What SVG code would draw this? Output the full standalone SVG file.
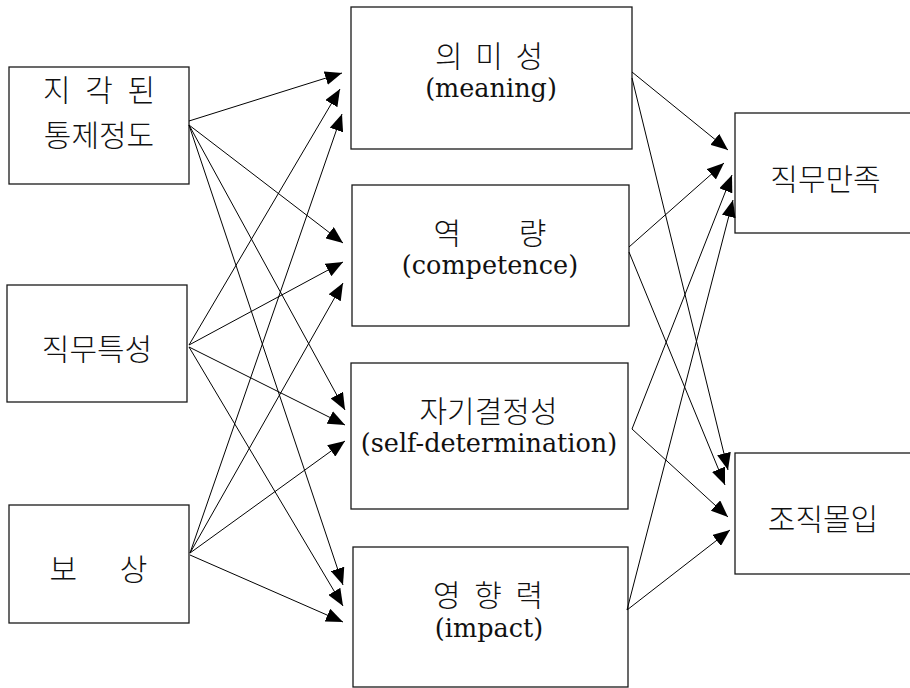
<svg xmlns="http://www.w3.org/2000/svg" width="910" height="688" viewBox="0 0 910 688">
  <style>
    .box { fill: #ffffff; stroke: #1a1a1a; stroke-width: 1.3; }
    .ko { font-family: "Noto Sans CJK KR", sans-serif; font-size: 30px; font-weight: 300; fill: #111; text-anchor: middle; }
    .en { font-family: "DejaVu Serif", "Liberation Serif", serif; font-size: 25.5px; fill: #111; text-anchor: middle; }
    .edge { stroke: #000; stroke-width: 1; fill: none; marker-end: url(#arrow); }
  </style>
  <defs>
    <marker id="arrow" markerUnits="userSpaceOnUse" markerWidth="18" markerHeight="14" refX="17" refY="7" orient="auto">
      <path d="M0,0 L17,7 L0,14 z" fill="#000"/>
    </marker>
  </defs>

  <rect width="910" height="688" fill="#ffffff"/>

  <!-- antecedents -->
  <g id="node-control">
    <rect class="box" x="9" y="67" width="180" height="117"/>
    <text class="ko" x="99" y="101" word-spacing="8">지 각 된</text>
    <text class="ko" x="99" y="146">통제정도</text>
  </g>
  <g id="node-job">
    <rect class="box" x="7" y="285" width="180" height="117"/>
    <text class="ko" x="97" y="360">직무특성</text>
  </g>
  <g id="node-reward">
    <rect class="box" x="9" y="505" width="180" height="118"/>
    <text class="ko" x="98.5" y="580" word-spacing="36">보 상</text>
  </g>

  <!-- empowerment dimensions -->
  <g id="node-meaning">
    <rect class="box" x="351" y="7" width="281" height="142"/>
    <text class="ko" x="489" y="67" word-spacing="6">의 미 성</text>
    <text class="en" x="491" y="97">(meaning)</text>
  </g>
  <g id="node-competence">
    <rect class="box" x="352" y="185" width="277" height="141"/>
    <text class="ko" x="490" y="244" word-spacing="51">역 량</text>
    <text class="en" x="490" y="274">(competence)</text>
  </g>
  <g id="node-self-determination">
    <rect class="box" x="351" y="363" width="277" height="146"/>
    <text class="ko" x="488.5" y="422">자기결정성</text>
    <text class="en" x="489" y="452">(self-determination)</text>
  </g>
  <g id="node-impact">
    <rect class="box" x="353" y="547" width="275" height="140"/>
    <text class="ko" x="488" y="606" word-spacing="7">영 향 력</text>
    <text class="en" x="489" y="637">(impact)</text>
  </g>

  <!-- outcomes -->
  <g id="node-satisfaction">
    <rect class="box" x="735" y="113" width="185" height="120"/>
    <text class="ko" x="825.5" y="190">직무만족</text>
  </g>
  <g id="node-commitment">
    <rect class="box" x="735" y="453" width="185" height="121"/>
    <text class="ko" x="823" y="530">조직몰입</text>
  </g>

  <g id="connectors">
    <!-- from 지각된 통제정도 -->
    <line class="edge" x1="189" y1="121" x2="342" y2="73"/>
    <line class="edge" x1="189" y1="125" x2="343" y2="243"/>
    <line class="edge" x1="189" y1="125" x2="345" y2="410"/>
    <line class="edge" x1="189" y1="125" x2="343" y2="585"/>
    <!-- from 직무특성 -->
    <line class="edge" x1="189" y1="345" x2="340" y2="89"/>
    <line class="edge" x1="189" y1="345" x2="343" y2="262"/>
    <line class="edge" x1="189" y1="347" x2="345" y2="425"/>
    <line class="edge" x1="189" y1="347" x2="343" y2="606"/>
    <!-- from 보상 -->
    <line class="edge" x1="190" y1="553" x2="342" y2="114"/>
    <line class="edge" x1="190" y1="553" x2="343" y2="283"/>
    <line class="edge" x1="190" y1="553" x2="345" y2="441"/>
    <line class="edge" x1="190" y1="555" x2="343" y2="622"/>
    <!-- to 직무만족 / 조직몰입 -->
    <line class="edge" x1="632" y1="72" x2="728" y2="150"/>
    <line class="edge" x1="632" y1="78" x2="728" y2="470"/>
    <line class="edge" x1="629" y1="247" x2="724" y2="163"/>
    <line class="edge" x1="629" y1="252" x2="725" y2="485"/>
    <line class="edge" x1="632" y1="429" x2="732" y2="175"/>
    <line class="edge" x1="632" y1="429" x2="728" y2="517"/>
    <line class="edge" x1="627" y1="610" x2="733" y2="200"/>
    <line class="edge" x1="627" y1="610" x2="730" y2="530"/>
  </g>
</svg>
